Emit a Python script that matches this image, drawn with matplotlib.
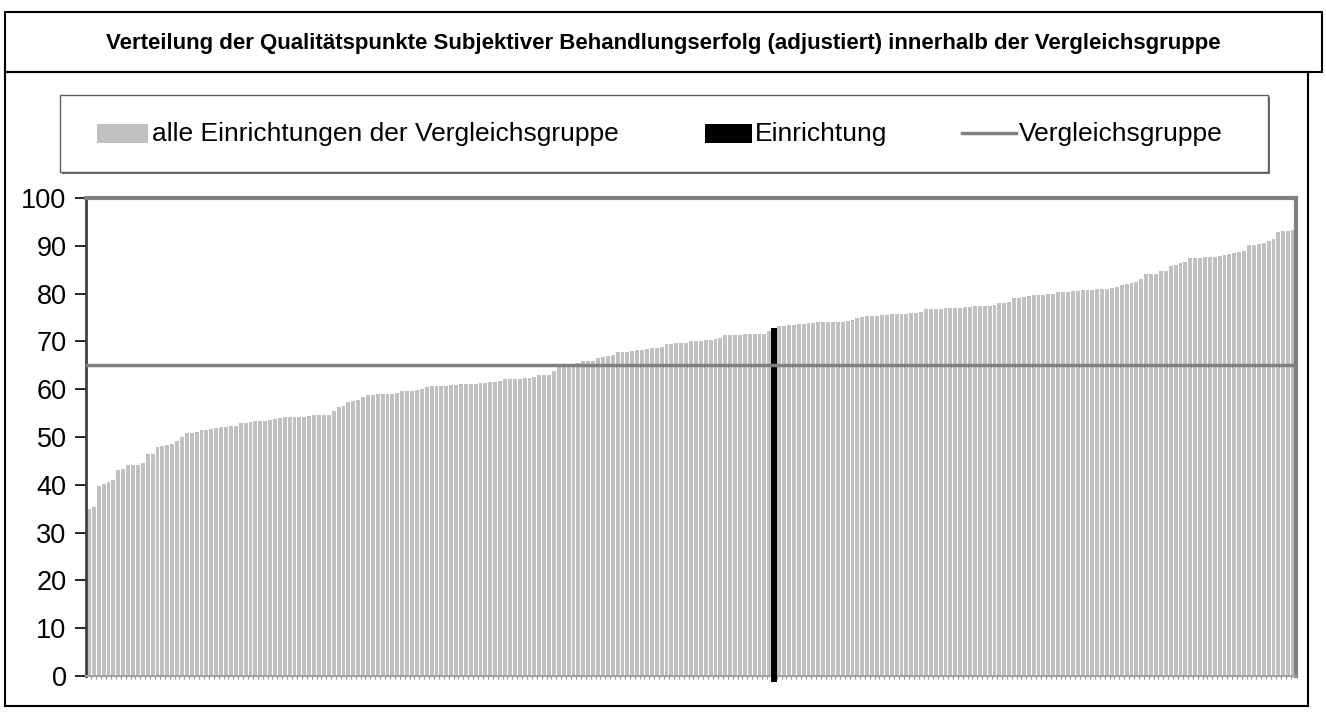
import matplotlib.pyplot as plt
from matplotlib.patches import Rectangle
from matplotlib.lines import Line2D

# sorted quality points of all clinics in the comparison group
scores = [
    35.0, 35.4,
    39.7, 40.2, 40.5, 40.9, 43.2, 43.3, 44.2, 44.2, 44.2, 44.6, 46.4, 46.4,
    48.0, 48.2, 48.3, 48.6, 49.2, 50.1, 50.8, 50.8, 51.0, 51.4, 51.5, 51.6,
    51.9, 52.0, 52.1, 52.2, 52.2, 53.0, 53.0, 53.2, 53.3, 53.3, 53.4, 53.6,
    53.7, 54.0, 54.1, 54.1, 54.1, 54.2, 54.2, 54.4, 54.5, 54.7, 54.7, 54.7,
    55.4, 56.3, 56.4, 57.3, 57.6, 57.8, 58.4, 58.8, 58.8, 58.9,
    58.9, 59.0, 59.1, 59.3, 59.6, 59.6, 59.7, 59.9, 60.1, 60.4, 60.6, 60.6,
    60.7, 60.7, 60.8, 60.8, 61.0, 61.0, 61.0, 61.1, 61.2, 61.4, 61.5, 61.5,
    61.7, 62.1, 62.1, 62.1, 62.1, 62.3, 62.3, 62.6, 62.9, 63.0, 63.0, 63.9,
    64.6, 64.7, 64.9, 65.0, 65.5, 65.8, 65.8, 66.0, 66.6, 66.8, 67.0, 67.2,
    67.7, 67.7, 67.8, 68.0, 68.1, 68.1, 68.5, 68.7, 68.7, 68.8, 69.5, 69.5,
    69.6, 69.7, 69.7, 70.1, 70.1, 70.1, 70.3, 70.3, 70.6, 70.7, 71.3, 71.3,
    71.3, 71.4, 71.5, 71.5, 71.5, 71.5, 71.6, 72.1,
    72.7,
    73.3, 73.3, 73.4, 73.4, 73.7, 73.7, 73.8, 73.8, 74.0, 74.0, 74.0, 74.0,
    74.1, 74.1, 74.2, 74.5, 75.0, 75.1, 75.3, 75.3, 75.4, 75.6, 75.6, 75.7,
    75.7, 75.7, 75.7, 75.9, 76.0, 76.2, 76.7, 76.8, 76.8, 76.8, 76.9, 76.9,
    76.9, 77.0,
    77.3, 77.3, 77.4, 77.5, 77.5, 77.5, 77.7, 78.0, 78.0, 78.3, 79.1, 79.1,
    79.2, 79.5, 79.7, 79.8, 79.8, 79.9, 79.9, 80.3, 80.4, 80.4, 80.6, 80.6,
    80.7, 80.7, 80.7, 80.9, 80.9, 81.0, 81.2, 81.4, 81.8, 82.0, 82.2, 82.4,
    83.1, 84.0, 84.2, 84.2, 84.7, 84.8, 85.8, 85.9, 86.5, 86.7, 87.5, 87.5,
    87.5, 87.7, 87.7, 87.7, 87.9, 88.1, 88.3, 88.5, 88.7, 89.0, 90.1, 90.2,
    90.3, 90.5, 91.1, 91.5, 92.8, 93.0, 93.1, 93.3,
]
own_index = 140          # position of the own clinic in the sorted list
group_value = 65.0       # mean of the comparison group
y_ticks = list(range(0, 101, 10))

title = ("Verteilung der Qualitätspunkte Subjektiver Behandlungserfolg "
         "(adjustiert) innerhalb der Vergleichsgruppe")
legend_labels = ["alle Einrichtungen der Vergleichsgruppe", "Einrichtung",
                 "Vergleichsgruppe"]

GRAY_BAR = "#c0c0c0"
GRAY_LINE = "#808080"
W, H = 1326, 716


def fx(px):
    return px / W


def fy(py):
    return 1 - py / H


plt.rcParams["font.family"] = ["Liberation Sans", "DejaVu Sans"]

fig = plt.figure(figsize=(W / 100, H / 100), dpi=100)

# outer frames
fig.add_artist(Rectangle((fx(5), fy(72)), fx(1322) - fx(5), fy(12) - fy(72),
                         transform=fig.transFigure, fill=False,
                         ec="black", lw=1.5))
fig.add_artist(Rectangle((fx(5), fy(706)), fx(1308) - fx(5),
                         fy(72) - fy(706), transform=fig.transFigure,
                         fill=False, ec="black", lw=1.5))

fig.text(0.5, fy(44), title, ha="center", va="center", fontsize=16,
         fontweight="bold",
         family=["Liberation Sans Narrow", "Liberation Sans", "DejaVu Sans"])

# legend box with shadow
fig.add_artist(Rectangle((fx(62), fy(174)), fx(1270) - fx(62),
                         fy(97) - fy(174), transform=fig.transFigure,
                         fc="#707070", ec="none"))
fig.add_artist(Rectangle((fx(60), fy(172)), fx(1268) - fx(60),
                         fy(95) - fy(172), transform=fig.transFigure,
                         fc="white", ec="#606060", lw=1))
fig.add_artist(Rectangle((fx(97), fy(143)), fx(148) - fx(97),
                         fy(124) - fy(143), transform=fig.transFigure,
                         fc=GRAY_BAR, ec="none"))
fig.text(fx(152), fy(134), legend_labels[0], va="center", fontsize=19)
fig.add_artist(Rectangle((fx(705), fy(143)), fx(752) - fx(705),
                         fy(124) - fy(143), transform=fig.transFigure,
                         fc="black", ec="none"))
fig.text(fx(755), fy(134), legend_labels[1], va="center", fontsize=19)
fig.add_artist(Line2D([fx(962), fx(1016)], [fy(133), fy(133)],
                      transform=fig.transFigure, color=GRAY_LINE, lw=2.5))
fig.text(fx(1019), fy(134), legend_labels[2], va="center", fontsize=19)

# chart
ax = fig.add_axes([fx(86), fy(676), fx(1296) - fx(86), fy(198) - fy(676)])
n = len(scores)
xs = list(range(n))
ax.bar(xs, scores, width=0.8, color=GRAY_BAR, zorder=2)
below = 1.3
ax.bar(own_index, scores[own_index] + below, width=1.25, bottom=-below,
       color="black", zorder=3, clip_on=False)
ax.axhline(group_value, color=GRAY_LINE, lw=2.5, zorder=4)

ax.set_xlim(-0.6, n - 0.4)
ax.set_ylim(0, 100)
ax.set_yticks(y_ticks)
ax.tick_params(axis="y", direction="out", length=8, width=1.2,
               labelsize=19.5, pad=6)
ax.set_xticks([i + 0.5 for i in range(n - 1)])
ax.set_xticklabels([])
ax.tick_params(axis="x", direction="out", length=2.5, width=0.8,
               color="#909090")

ax.spines["left"].set_color("#404040")
ax.spines["left"].set_linewidth(2)
ax.spines["bottom"].set_color("#a0a0a0")
ax.spines["bottom"].set_linewidth(1.5)
for side in ["top", "right"]:
    ax.spines[side].set_color(GRAY_LINE)
    ax.spines[side].set_linewidth(3)

fig.savefig("out.png", dpi=100)
